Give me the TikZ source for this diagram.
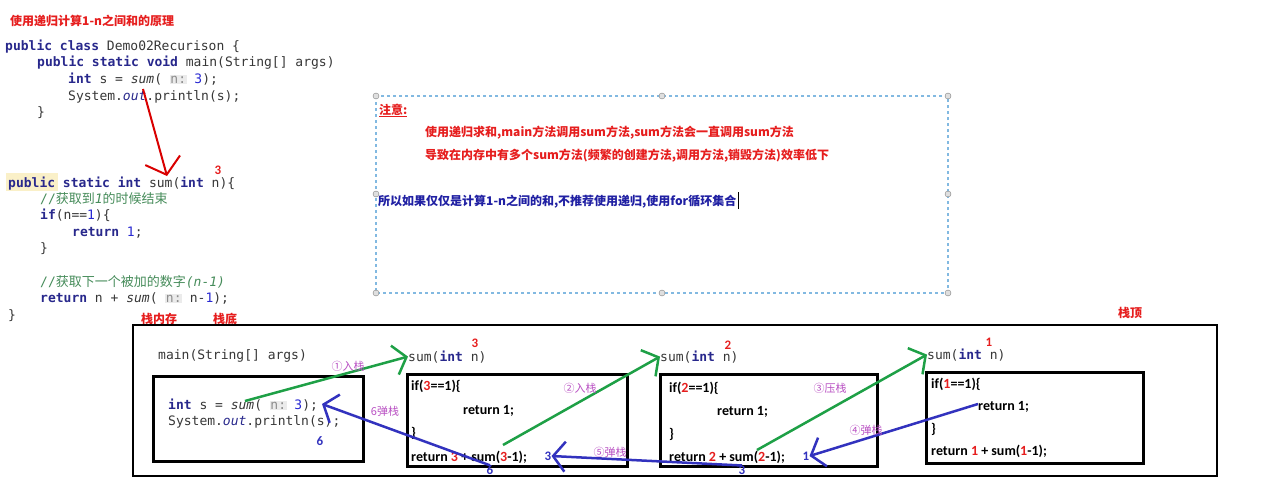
\documentclass[tikz,border=0pt]{standalone}
\usepackage{fontspec}
\usepackage{xcolor}
\setmainfont{Carlito}
\setmonofont{DejaVu Sans Mono}
\newfontfamily\cjk{Noto Sans CJK SC}
\usetikzlibrary{arrows.meta, positioning}

\definecolor{kwblue}{RGB}{40,40,140}
\definecolor{codegray}{RGB}{55,55,55}
\definecolor{cmtgreen}{RGB}{70,140,90}
\definecolor{numblue}{RGB}{40,40,210}
\definecolor{notered}{RGB}{230,30,30}
\definecolor{labpurple}{RGB}{185,80,195}
\definecolor{pushgreen}{RGB}{30,160,70}
\definecolor{popblue}{RGB}{50,50,190}
\definecolor{dashblue}{RGB}{130,185,225}
\definecolor{hintbg}{RGB}{235,235,235}
\definecolor{hintfg}{RGB}{140,140,140}
\definecolor{hlyellow}{RGB}{250,240,200}

\newcommand{\codefont}{\ttfamily\fontsize{13}{16}\selectfont}
\newcommand{\boxfont}{\bfseries\fontsize{14}{17}\selectfont}
\newcommand{\zhfont}{\cjk\bfseries\fontsize{12}{14}\selectfont}
\newcommand{\kw}[1]{\textcolor{kwblue}{\textbf{#1}}}
\newcommand{\nm}[1]{\textcolor{numblue}{#1}}
\newcommand{\rd}[1]{\textcolor{notered}{#1}}
\newcommand{\hint}[1]{{\setlength{\fboxsep}{0.5pt}\colorbox{hintbg}{\textcolor{hintfg}{#1}}}}
\newcommand{\zh}[1]{{\cjk #1}}

\begin{document}
\begin{tikzpicture}[x=1pt, y=-1pt,
    code/.style={anchor=base west, inner sep=0pt, font=\codefont, text=codegray},
    cmt/.style={code, text=cmtgreen},
    boxcode/.style={anchor=base west, inner sep=0pt, font=\boxfont, text=black},
    note/.style={anchor=base west, inner sep=0pt, font=\zhfont, text=notered},
    steplabel/.style={inner sep=0pt, font=\cjk\fontsize{11}{13}\selectfont, text=labpurple},
    bignum/.style={inner sep=0pt, font=\bfseries\fontsize{13}{15}\selectfont, text=notered},
    retnum/.style={inner sep=0pt, font=\bfseries\fontsize{13}{15}\selectfont, text=popblue},
    frame/.style={draw, line width=2.5pt, anchor=north west, inner sep=0pt},
    handle/.style={circle, draw=gray, fill=gray!25, inner sep=0pt, minimum size=6pt},
    pusharrow/.style={draw=pushgreen, line width=2.5pt, -{Straight Barb[length=12pt, width=30pt, line width=2.5pt]}},
    poparrow/.style={draw=popblue, line width=2.5pt, -{Straight Barb[length=12pt, width=30pt, line width=2.5pt]}},
    callarrow/.style={draw=red!85!black, line width=2pt, -{Straight Barb[length=15pt, width=36pt, line width=2pt]}}]

\fill[white] (0,0) rectangle (1267,490);
\useasboundingbox (0,0) rectangle (1267,490);

% title
\node[note, font=\zhfont] (title) at (10,25) {使用递归计算1-n之间和的原理};

% class with main method
\node[code] (cls) at (5,50) {\kw{public class} Demo02Recurison \{};
\node[code] (mainsig) at (37,66) {\kw{public static void} main(String[] args)};
\node[code] (calls) at (68,83) {\kw{int} s = \textit{sum}( \hint{n:} \nm{3});};
\node[code] (print) at (68,100) {System.\textcolor{kwblue}{\textit{out}}.println(s);};
\node[code] (mainend) at (37,116) {\}};

% recursive method
\fill[hlyellow] (6,173) rectangle (58,191);
\node[code] (sumsig) at (8,187) {\kw{public static int} sum(\kw{int} n)\{};
\node[bignum] (nthree) at (218,170) {3};
\node[cmt] (cmtend) at (40,203) {//\zh{获取到}\textit{1}\zh{的时候结束}};
\node[code] (ifn) at (40,219) {\kw{if}(n==\nm{1})\{};
\node[code] (retone) at (72,236) {\kw{return} \nm{1};};
\node[code] (ifend) at (40,252) {\}};
\node[cmt] (cmtnext) at (40,286) {//\zh{获取下一个被加的数字}\textit{(n-1)}};
\node[code] (retsum) at (40,302) {\kw{return} n + \textit{sum}( \hint{n:} n-\nm{1});};
\node[code] (sumend) at (8,319) {\}};

\coordinate (callsum) at (143,89);
\coordinate (sumdef) at (167,176);
\draw[callarrow] (callsum) -- (sumdef);

% note box
\draw[draw=dashblue, line width=1.5pt, dash pattern=on 3pt off 3pt] (376,96) rectangle (948,293);
\foreach \hx/\hy [count=\i] in {376/96, 662/96, 948/96, 376/194, 948/194, 376/293, 662/293, 948/293}
  \node[handle] (h\i) at (\hx,\hy) {};
\node[note] (warn) at (379,114) {\underline{注意:}};
\node[note] (warnone) at (425,136) {使用递归求和,main方法调用sum方法,sum方法会一直调用sum方法};
\node[note] (warntwo) at (425,159) {导致在内存中有多个sum方法(频繁的创建方法,调用方法,销毁方法)效率低下};
\node[note, text=kwblue!80!blue] (advice) at (378,205) {所以如果仅仅是计算1-n之间的和,不推荐使用递归,使用for循环集合};
\draw[line width=1pt] (advice.base east) ++(2,4) -- ++(0,-17);

% stack memory
\node[note, anchor=west] (stackmem) at (141,319) {栈内存};
\node[note, anchor=west] (bottom) at (213,319) {栈底};
\node[note, anchor=west] (top) at (1118,313) {栈顶};
\draw[line width=2.5pt] (133,325) rectangle (1217,476);

% main frame
\node[code] (mainlab) at (158,359) {main(String[] args)};
\node[frame, minimum width=210pt, minimum height=85pt] (mainbox) at (152,375) {};
\node[code] (mcall) at (168,409) {\kw{int} s = \textit{sum}( \hint{n:} \nm{3});};
\node[code] (mprint) at (168,425) {System.\textcolor{kwblue}{\textit{out}}.println(s);};
\node[retnum] (six) at (320,441) {6};

% sum(3) frame
\node[code] (sumA) at (408,361) {sum(\kw{int} n)};
\node[bignum] (nA) at (475,343) {3};
\node[frame, minimum width=220pt, minimum height=92pt] (boxA) at (406,373) {};
\node[boxcode] (ifA) at (411,390) {if(\rd{3}==1)\{};
\node[boxcode] (retoneA) at (463,414) {return 1;};
\node[boxcode] (endA) at (411,437) {\}};
\node[boxcode] (retA) at (411,461) {return \rd{3} + sum(\rd{3}-1);};
\node[retnum] (threeA) at (548,456) {3};

% sum(2) frame
\node[code] (sumB) at (660,361) {sum(\kw{int} n)};
\node[bignum] (nB) at (728,345) {2};
\node[frame, minimum width=217pt, minimum height=92pt] (boxB) at (659,373) {};
\node[boxcode] (ifB) at (669,392) {if(\rd{2}==1)\{};
\node[boxcode] (retoneB) at (717,415) {return 1;};
\node[boxcode] (endB) at (669,438) {\}};
\node[boxcode] (retB) at (669,461) {return \rd{2} + sum(\rd{2}-1);};
\node[retnum] (oneB) at (806,456) {1};

% sum(1) frame
\node[code] (sumC) at (927,359) {sum(\kw{int} n)};
\node[bignum] (nC) at (989,342) {1};
\node[frame, minimum width=217pt, minimum height=91pt] (boxC) at (925,371) {};
\node[boxcode] (ifC) at (931,388) {if(\rd{1}==1)\{};
\node[boxcode] (retoneC) at (978,410) {return 1;};
\node[boxcode] (endC) at (931,433) {\}};
\node[boxcode] (retC) at (931,455) {return \rd{1} + sum(\rd{1}-1);};

% push arrows
\coordinate (pushone) at (245,401);
\coordinate (pushtwo) at (503,445);
\coordinate (pushthree) at (757,450);
\draw[pusharrow] (pushone) -- (sumA.west);
\draw[pusharrow] (pushtwo) -- (sumB.west);
\draw[pusharrow] (pushthree) -- (sumC.west);
\node[steplabel] (lone) at (348,366) {①入栈};
\node[steplabel] (ltwo) at (580,388) {②入栈};
\node[steplabel] (lthree) at (830,388) {③压栈};

% pop arrows
\node[retnum] (threeB) at (742,470) {3};
\node[retnum] (sixA) at (490,470) {6};
\coordinate (popfour) at (978,404);
\coordinate (mret) at (322,404);
\draw[poparrow] (popfour) -- (oneB.east);
\draw[poparrow] (threeB.north) -- (threeA.east);
\draw[poparrow] (sixA.north) -- (mret);
\node[steplabel] (lfour) at (866,430) {④弹栈};
\node[steplabel] (lfive) at (610,452) {⑤弹栈};
\node[steplabel] (lsix) at (385,411) {6弹栈};
\end{tikzpicture}
\end{document}
